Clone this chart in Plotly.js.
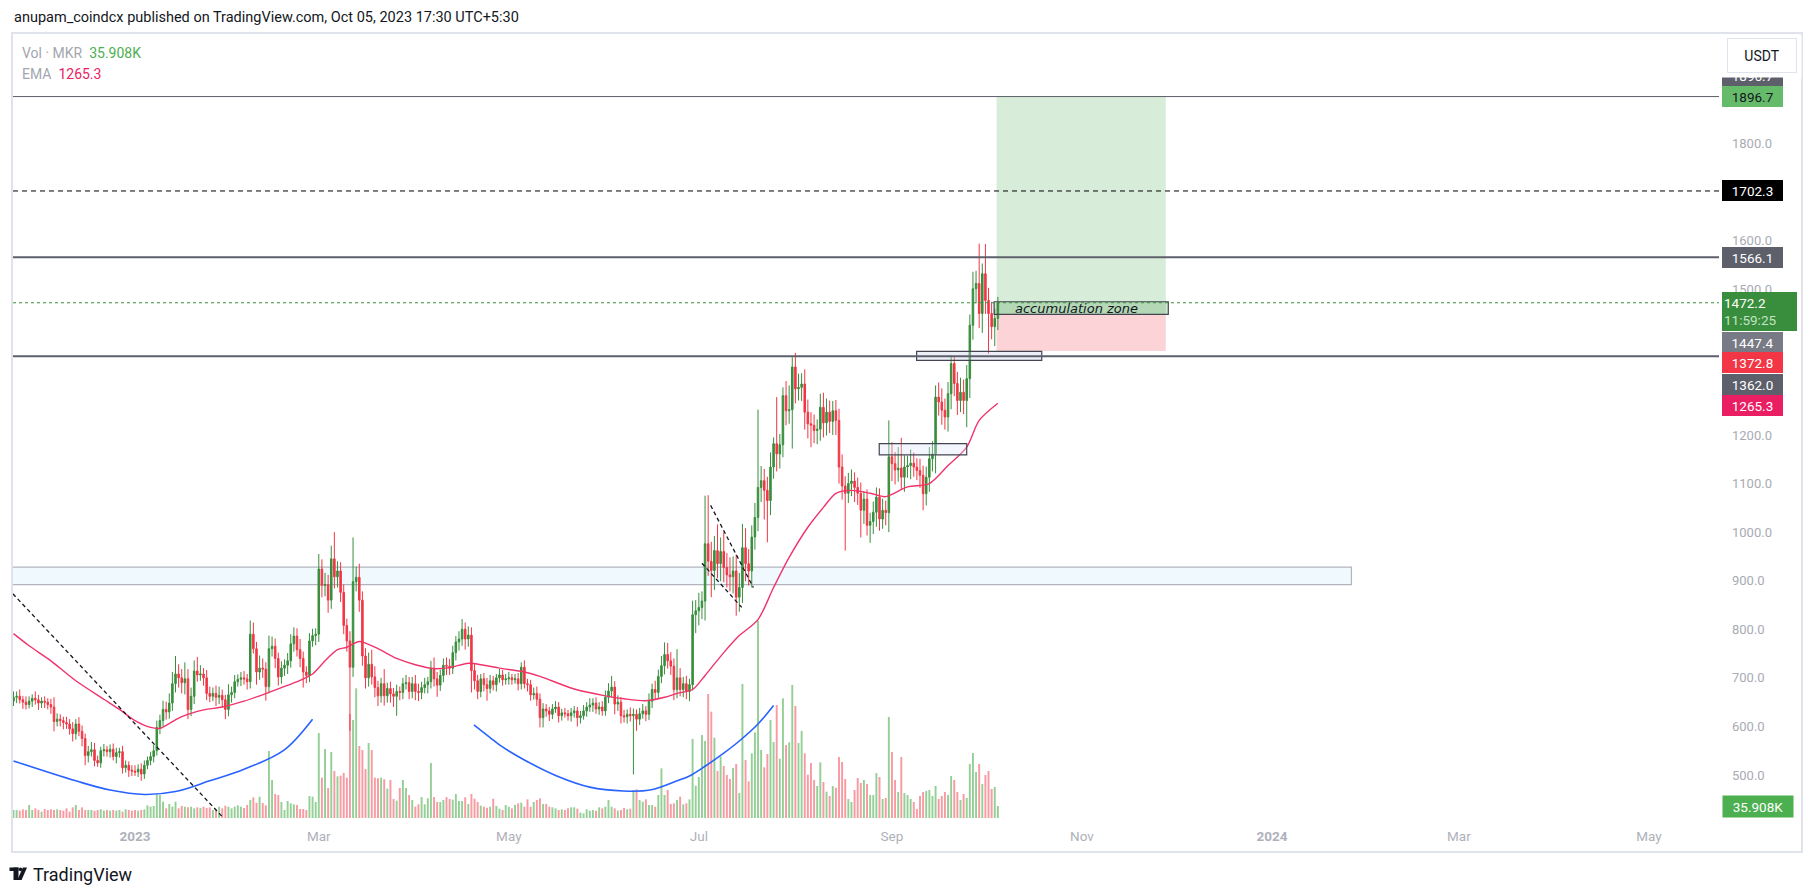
<!DOCTYPE html>
<html><head><meta charset="utf-8">
<script src="https://cdn.plot.ly/plotly-3.0.1.min.js"></script>
<style>html,body{margin:0;padding:0;background:#fff;overflow:hidden}#chart{width:1815px;height:896px}</style>
</head><body><div id="chart"></div>
<script>
// ---------------- DATA (MKR/USDT daily) ----------------
const startDate = '2022-11-23';
const firstOpen = 652;
const closes = [
660,662,655,650,645,652,658,655,648,652,
650,645,640,610,615,612,608,605,595,585,
605,590,575,540,548,552,530,525,550,552,
548,553,538,546,548,515,520,510,508,506,
512,502,520,530,538,550,598,612,635,630,
648,688,708,700,690,698,635,662,714,706,
708,700,668,662,668,660,664,655,635,665,
670,692,697,700,698,692,790,760,712,720,
718,682,760,765,740,702,720,726,735,770,
786,758,740,712,705,776,787,790,924,890,
892,860,945,908,920,876,808,776,722,898,
907,860,745,700,728,702,680,663,688,663,
678,667,662,672,670,688,690,672,688,672,
670,680,686,692,720,698,685,705,726,724,
720,752,774,780,800,780,788,715,694,672,
698,686,678,694,686,700,706,696,698,700,
696,698,688,722,688,686,665,668,656,618,
636,632,625,636,640,622,628,626,622,628,
632,618,622,632,640,644,648,636,640,632,
660,673,681,646,650,622,620,625,622,625,
615,626,632,625,652,676,670,703,725,748,
735,724,676,700,676,688,672,686,830,838,
845,858,976,940,921,962,935,960,927,912,
908,920,866,886,968,935,920,990,1030,1092,
1106,1086,1065,1134,1182,1161,1180,1281,1250,1252,
1340,1295,1298,1305,1247,1223,1220,1209,1212,1257,
1225,1247,1228,1250,1230,1134,1095,1080,1100,1105,
1092,1080,1045,1068,1014,1022,1041,1072,1027,1045,
1040,1155,1141,1128,1132,1113,1134,1137,1142,1134,
1127,1117,1079,1113,1151,1161,1278,1268,1251,1237,
1285,1347,1306,1271,1288,1271,1316,1426,1501,1512,
1450,1532,1477,1450,1423,1440,1472.2];
const upperWick = [
12,10,14,8,12,10,8,14,10,8,
10,8,12,20,12,10,8,12,10,14,
10,14,12,10,12,16,14,10,8,12,
8,10,12,10,8,12,10,8,10,12,
10,12,10,8,10,12,14,12,18,16,
20,24,37,20,18,34,20,18,22,29,
18,12,16,14,12,16,18,12,10,22,
12,14,10,12,14,10,28,24,14,26,
20,14,27,20,16,12,14,12,16,20,
18,16,22,14,12,16,14,12,31,20,
24,20,27,55,20,18,16,14,20,91,
22,28,18,16,24,30,22,14,12,30,
12,14,12,14,10,12,16,12,14,18,
16,12,14,10,15,22,14,12,14,16,
15,14,12,16,21,14,18,16,14,12,
10,12,14,12,10,8,12,10,10,12,
8,10,12,10,14,10,10,12,14,12,
12,10,8,10,12,10,8,10,8,10,
10,8,10,12,10,14,10,12,10,12,
14,16,23,12,14,10,12,10,14,12,
10,12,14,10,16,12,18,14,20,25,
24,18,16,59,20,14,16,12,29,22,
30,20,99,100,40,30,54,29,40,30,
36,30,34,30,49,40,30,24,30,160,
30,24,28,30,13,96,22,17,30,50,
20,29,28,22,30,26,24,22,20,28,
30,28,24,20,22,24,26,20,22,24,
18,20,22,16,20,18,22,20,18,24,
20,75,30,24,43,62,24,20,28,22,
18,24,20,22,24,26,24,30,28,24,
24,17,15,24,30,26,28,22,35,26,
82,21,61,26,24,20,12];
const lowerWick = [
10,12,8,14,10,8,12,10,14,10,
12,10,14,20,10,12,14,10,12,16,
12,10,16,20,14,10,12,8,10,12,
10,12,8,14,10,12,10,14,10,8,
10,14,10,8,10,12,10,14,12,16,
14,16,18,20,22,24,20,14,16,14,
12,16,14,12,10,18,14,16,20,14,
16,12,10,14,12,16,14,10,26,16,
18,29,14,16,20,18,14,16,18,14,
16,14,18,32,16,14,12,20,16,24,
22,26,18,24,22,20,18,22,131,20,
20,24,20,22,18,16,20,21,14,20,
14,18,22,40,16,14,12,16,14,18,
18,14,12,18,14,16,24,12,14,18,
14,12,16,18,14,22,16,45,18,16,
12,14,25,10,12,14,10,12,10,12,
10,8,14,12,10,14,12,10,14,20,
20,12,14,10,8,14,10,8,10,12,
10,18,12,8,12,10,14,10,12,10,
10,12,14,21,14,16,12,14,12,121,
24,12,10,14,12,14,16,12,14,18,
16,18,22,18,14,16,16,20,12,38,
30,24,40,30,55,40,30,36,30,26,
30,34,38,30,32,36,30,34,26,28,
30,60,86,30,24,36,30,26,30,27,
80,30,24,28,36,30,45,26,28,24,
30,26,24,28,30,34,28,118,20,26,
30,24,56,28,21,36,26,30,24,20,
26,40,36,30,24,26,30,22,28,20,
20,26,34,24,30,26,40,28,30,26,
30,32,26,30,24,28,55,40,30,30,
30,40,28,83,26,40,24];
const volumesK = [
24,24,22,26,24,39,24,29,24,19,
27,24,26,24,26,24,22,29,19,32,
39,24,32,24,24,24,22,24,26,22,
24,22,24,22,24,19,26,24,22,24,
22,24,26,38,34,36,71,69,49,29,
42,34,49,29,36,34,32,34,29,32,
30,34,30,32,24,26,34,29,37,34,
29,34,38,34,30,39,54,62,46,64,
45,38,201,114,72,69,48,24,51,44,
41,39,27,27,24,66,64,48,255,121,
207,90,198,141,125,127,135,121,312,294,
389,216,204,147,225,204,121,119,121,116,
88,114,57,52,90,114,90,69,54,34,
41,63,41,59,165,63,48,48,54,63,
57,55,72,51,51,62,42,72,58,48,
37,34,31,34,58,36,28,24,39,34,
29,39,44,46,34,56,34,48,54,59,
42,42,34,32,29,24,26,24,29,32,
32,28,16,14,26,22,24,22,32,29,
34,54,34,29,22,24,30,26,28,84,
86,54,49,56,39,39,34,69,149,69,
84,42,44,54,64,41,44,56,237,97,
123,249,231,372,319,241,141,184,156,129,
117,150,162,75,402,174,110,194,257,591,
204,152,192,294,228,339,178,359,219,227,
399,336,225,261,194,130,165,114,96,167,
108,79,66,96,91,183,168,117,57,48,
84,120,105,114,102,69,69,135,123,57,
60,303,198,114,78,183,75,69,57,48,
27,66,78,81,84,66,96,57,66,78,
69,126,114,78,54,72,60,162,195,138,
162,102,129,141,87,93,35.908];

// EMA line
const emaDates = ['2022-11-23','2022-11-28','2022-12-05','2022-12-13','2022-12-22','2022-12-27','2023-01-01','2023-01-06','2023-01-09','2023-01-12',
'2023-01-16','2023-01-23','2023-01-29','2023-02-05','2023-02-10','2023-02-17','2023-02-23','2023-02-27','2023-03-03','2023-03-07',
'2023-03-10','2023-03-14','2023-03-20','2023-03-26','2023-04-01','2023-04-07','2023-04-12','2023-04-18','2023-04-23','2023-04-28',
'2023-05-06','2023-05-11','2023-05-22','2023-06-01','2023-06-07','2023-06-14','2023-06-20','2023-06-24','2023-06-29','2023-07-03',
'2023-07-09','2023-07-14','2023-07-20','2023-07-25','2023-07-30','2023-08-05','2023-08-10','2023-08-14','2023-08-19','2023-08-25',
'2023-08-30','2023-09-06','2023-09-13','2023-09-19','2023-09-25','2023-09-29','2023-10-05'];
const emaValues = [791,766,735,694,656,635,612,598,596,606,
620,634,640,652,663,680,695,708,735,758,
763,775,760,740,727,719,721,730,726,720,
712,703,677,663,657,653,660,668,676,705,
752,787,820,886,948,1010,1051,1080,1086,1080,
1073,1093,1100,1137,1175,1230,1265.3];

// Drawings (arcs, trend lines, levels, zones)
const arc1Dates = ['2022-11-23','2022-12-13','2022-12-24','2023-01-04','2023-01-14','2023-01-25','2023-02-05','2023-02-17 14:00','2023-02-27'];
const arc1Prices = [529,488,469,460,466,488,512,550,615];
const arc2Dates = ['2023-04-19 19:00','2023-04-25','2023-04-28','2023-05-05 17:00','2023-05-16 10:00','2023-05-27','2023-06-06 19:00','2023-06-15 07:00','2023-06-24','2023-06-28','2023-07-03','2023-07-09','2023-07-14','2023-07-20','2023-07-25'];
const arc2Prices = [603,577,562,532,498,475,467,469,488,498,518,545,570,605,643];
const trend1Dates = ['2022-11-22 19:00','2023-01-29 12:00'];
const trend1Prices = [873,411];
const wedgeUpDates = ['2023-07-04 19:00','2023-07-18 12:00'];
const wedgeUpPrices = [1055,886];
const wedgeLoDates = ['2023-07-02','2023-07-14 19:00'];
const wedgeLoPrices = [936,845];
const levelSolid = [1896.7,1566.1,1362.0];
const levelDashed = 1702.3;
const lastPrice = 1472.2;
const zoneDates = ['2022-11-20','2024-01-26 12:00'], zonePrices = [892,928];
const boxADates = ['2023-08-27 22:00','2023-09-25'], boxAPrices = [1159,1182];
const boxBDates = ['2023-09-08 22:00','2023-10-19 02:00'], boxBPrices = [1353.7,1372.2];
const longDates = ['2023-10-04 14:00','2023-11-27 22:00'];
const longTarget = 1896.7, longEntry = 1447.4, longStop = 1372.8;
const accDates = ['2023-10-03 19:00','2023-11-28 17:00'], accPrices = [1448.4,1474.3];
const accLabel = 'accumulation zone', accLabelDate = '2023-10-30 02:00';
const tickDates = ['2023-01-01','2023-03-01','2023-05-01','2023-07-01','2023-09-01','2023-11-01','2024-01-01','2024-03-01','2024-05-01'];
const tickLabels = ['<b>2023</b>','Mar','May','Jul','Sep','Nov','<b>2024</b>','Mar','May'];
const priceTicks = [500,600,700,800,900,1000,1100,1200,1500,1600,1800];

// ---------------- BUILD ----------------
const DAY = 86400000;
const t0 = Date.parse(startDate + 'T00:00:00Z');
const dates = closes.map((_, i) => new Date(t0 + i * DAY).toISOString().slice(0, 10));
const opens = closes.map((c, i) => i === 0 ? firstOpen : closes[i - 1]);
const highs = closes.map((c, i) => Math.max(opens[i], c) + upperWick[i]);
const lows = closes.map((c, i) => Math.min(opens[i], c) - lowerWick[i]);
const up = closes.map((c, i) => c >= opens[i]);
const GREEN = '#388e3c', RED = '#f23645';

// page geometry helpers (plot area: x 13..1719, y 35..818)
const L = 13, R = 1719, T = 35, B = 818;
const px = x => (x - L) / (R - L);
const py = y => (B - y) / (B - T);
const FONT = 'Roboto, "Open Sans", sans-serif';

const traces = [
  {type: 'bar', x: dates, y: volumesK, yaxis: 'y', width: 0.62 * DAY,
   marker: {color: up.map(u => u ? 'rgba(76,175,80,0.6)' : 'rgba(242,54,69,0.5)'), line: {width: 0}},
   hoverinfo: 'skip', showlegend: false},
  {type: 'candlestick', x: dates, open: opens, high: highs, low: lows, close: closes, yaxis: 'y2',
   increasing: {line: {color: GREEN, width: 1}, fillcolor: GREEN},
   decreasing: {line: {color: RED, width: 1}, fillcolor: RED},
   whiskerwidth: 0, hoverinfo: 'skip', showlegend: false},
  {type: 'scatter', mode: 'lines', x: emaDates, y: emaValues, yaxis: 'y2',
   line: {color: '#f0336b', width: 1.4, shape: 'spline', smoothing: 0.8}, hoverinfo: 'skip', showlegend: false},
  {type: 'scatter', mode: 'lines', x: arc1Dates, y: arc1Prices, yaxis: 'y2',
   line: {color: '#2962ff', width: 1.6, shape: 'spline', smoothing: 1}, hoverinfo: 'skip', showlegend: false},
  {type: 'scatter', mode: 'lines', x: arc2Dates, y: arc2Prices, yaxis: 'y2',
   line: {color: '#2962ff', width: 1.6, shape: 'spline', smoothing: 1}, hoverinfo: 'skip', showlegend: false},
  {type: 'scatter', mode: 'lines', x: trend1Dates, y: trend1Prices, yaxis: 'y2',
   line: {color: '#131722', width: 1.3, dash: '4px,3px'}, hoverinfo: 'skip', showlegend: false},
  {type: 'scatter', mode: 'lines', x: wedgeUpDates, y: wedgeUpPrices, yaxis: 'y2',
   line: {color: '#131722', width: 1.3, dash: '4px,3px'}, hoverinfo: 'skip', showlegend: false},
  {type: 'scatter', mode: 'lines', x: wedgeLoDates, y: wedgeLoPrices, yaxis: 'y2',
   line: {color: '#131722', width: 1.3, dash: '4px,3px'}, hoverinfo: 'skip', showlegend: false}
];

const shapes = [
  // frame
  {type: 'rect', xref: 'paper', yref: 'paper', x0: px(12), x1: px(1802), y0: py(852), y1: py(33),
   line: {color: '#e0e3eb', width: 2}, fillcolor: 'rgba(0,0,0,0)', layer: 'below'},
  // support zone
  {type: 'rect', xref: 'x', yref: 'y2', x0: zoneDates[0], x1: zoneDates[1], y0: zonePrices[0], y1: zonePrices[1],
   line: {color: '#b2b5be', width: 1.2}, fillcolor: 'rgba(204,236,248,0.3)', layer: 'below'},
  // long position
  {type: 'rect', xref: 'x', yref: 'y2', x0: longDates[0], x1: longDates[1], y0: longEntry, y1: longTarget,
   line: {width: 0}, fillcolor: 'rgba(76,175,80,0.22)', layer: 'below'},
  {type: 'rect', xref: 'x', yref: 'y2', x0: longDates[0], x1: longDates[1], y0: longStop, y1: longEntry,
   line: {width: 0}, fillcolor: 'rgba(242,54,69,0.22)', layer: 'below'},
  // boxes
  {type: 'rect', xref: 'x', yref: 'y2', x0: boxADates[0], x1: boxADates[1], y0: boxAPrices[0], y1: boxAPrices[1],
   line: {color: '#434651', width: 1.2}, fillcolor: 'rgba(220,228,245,0.35)', layer: 'above'},
  {type: 'rect', xref: 'x', yref: 'y2', x0: boxBDates[0], x1: boxBDates[1], y0: boxBPrices[0], y1: boxBPrices[1],
   line: {color: '#434651', width: 1.2}, fillcolor: 'rgba(200,208,235,0.35)', layer: 'above'},
  {type: 'rect', xref: 'x', yref: 'y2', x0: accDates[0], x1: accDates[1], y0: accPrices[0], y1: accPrices[1],
   line: {color: '#434651', width: 1.2}, fillcolor: 'rgba(56,142,60,0.22)', layer: 'above'},
  // levels
  ...levelSolid.map((v, i) => ({type: 'line', xref: 'paper', yref: 'y2', x0: 0, x1: 1, y0: v, y1: v,
   line: {color: '#5d606b', width: i === 0 ? 1 : 2}, layer: 'above'})),
  {type: 'line', xref: 'paper', yref: 'y2', x0: 0, x1: 1, y0: levelDashed, y1: levelDashed,
   line: {color: '#000000', width: 1, dash: '5px,4px'}, layer: 'above'},
  {type: 'line', xref: 'paper', yref: 'y2', x0: 0, x1: 1, y0: lastPrice, y1: lastPrice,
   line: {color: GREEN, width: 1, dash: 'dot'}, layer: 'above'},
  // TradingView logo
  {type: 'rect', xref: 'paper', yref: 'paper', x0: px(9.5), x1: px(18.5), y0: py(871), y1: py(867.5), fillcolor: '#131722', line: {width: 0}},
  {type: 'rect', xref: 'paper', yref: 'paper', x0: px(13.5), x1: px(18.5), y0: py(880), y1: py(867.5), fillcolor: '#131722', line: {width: 0}},
  {type: 'circle', xref: 'paper', yref: 'paper', x0: px(18.8), x1: px(22.2), y0: py(871.2), y1: py(867.6), fillcolor: '#131722', line: {width: 0}},
  {type: 'path', xref: 'paper', yref: 'paper',
   path: `M ${px(22.8)} ${py(867.5)} L ${px(27)} ${py(867.5)} L ${px(21.6)} ${py(880)} L ${px(17.4)} ${py(880)} Z`,
   fillcolor: '#131722', line: {width: 0}}
];

function tag(text, y, yshift, bg, fg, extra) {
  return Object.assign({xref: 'paper', yref: 'y2', x: px(1722), y: y, yshift: yshift, xanchor: 'left', yanchor: 'middle',
    text: text, showarrow: false, bgcolor: bg, borderpad: 2, borderwidth: 0, width: 57, height: 17,
    font: {family: FONT, size: 13.5, color: fg}, align: 'center'}, extra || {});
}

const annotations = [
  {xref: 'paper', yref: 'paper', x: px(12), y: py(18), xanchor: 'left', yanchor: 'middle', showarrow: false,
   text: 'anupam_coindcx published on TradingView.com, Oct 05, 2023 17:30 UTC+5:30', font: {family: FONT, size: 14.5, color: '#131722'}},
  {xref: 'paper', yref: 'paper', x: px(20), y: py(53), xanchor: 'left', yanchor: 'middle', showarrow: false,
   text: 'Vol · MKR  <span style="color:#4caf50">35.908K</span>', font: {family: FONT, size: 14, color: '#a3a6af'}},
  {xref: 'paper', yref: 'paper', x: px(20), y: py(74), xanchor: 'left', yanchor: 'middle', showarrow: false,
   text: 'EMA  <span style="color:#e91e63">1265.3</span>', font: {family: FONT, size: 14, color: '#a3a6af'}},
  {xref: 'paper', yref: 'paper', x: px(31), y: py(874), xanchor: 'left', yanchor: 'middle', showarrow: false,
   text: 'TradingView', font: {family: FONT, size: 18, color: '#131722'}},
  {xref: 'x', yref: 'y2', x: accLabelDate, y: (accPrices[0] + accPrices[1]) / 2, showarrow: false,
   text: '<i>' + accLabel + '</i>', font: {family: '"DejaVu Sans", sans-serif', size: 13, color: '#131722'}},
  // price-scale tags
  tag('1896.7', longTarget, 20.6, '#5d606b', '#ffffff'),
  {xref: 'paper', yref: 'paper', x: px(1720), y: py(56), xanchor: 'left', yanchor: 'middle', text: ' ', showarrow: false,
   bgcolor: '#ffffff', borderpad: 0, width: 80, height: 41, font: {size: 10}},
  {xref: 'paper', yref: 'paper', x: px(1727), y: py(55.5), xanchor: 'left', yanchor: 'middle', text: 'USDT', showarrow: false,
   bgcolor: '#ffffff', bordercolor: '#e0e3eb', borderwidth: 1, borderpad: 0, width: 68, height: 33,
   font: {family: FONT, size: 14, color: '#131722'}},
  tag('1896.7', longTarget, 0, '#66bb6a', '#131722'),
  tag('1702.3', levelDashed, 0, '#000000', '#ffffff'),
  tag('1566.1', levelSolid[1], 0, '#5d606b', '#ffffff'),
  tag('1472.2<br><span style="color:#c5e3c6">11:59:25</span>', lastPrice, -9, GREEN, '#ffffff', {width: 71, height: 35, align: 'left', borderpad: 2}),
  tag('1447.4', longEntry, -27.5, '#787b86', '#ffffff'),
  tag('1372.8', longStop, -11.8, '#f23645', '#ffffff'),
  tag('1362.0', levelSolid[2], -28.1, '#5d606b', '#ffffff'),
  tag('1265.3', emaValues[emaValues.length - 1], -2.7, '#e91e63', '#ffffff'),
  {xref: 'paper', yref: 'y', x: px(1722), y: volumesK[volumesK.length - 1], yshift: 0, xanchor: 'left', yanchor: 'middle',
   text: '35.908K', showarrow: false, bgcolor: '#4caf50', borderpad: 2, width: 66, height: 17,
   font: {family: FONT, size: 13.5, color: '#ffffff'}}
];

const layout = {
  width: 1815, height: 896,
  margin: {l: L, r: 1815 - R, t: T, b: 896 - B, pad: 0},
  paper_bgcolor: '#ffffff', plot_bgcolor: 'rgba(0,0,0,0)',
  showlegend: false, dragmode: false, boxgap: 0.3,
  font: {family: FONT},
  xaxis: {type: 'date', range: ['2022-11-22 20:00', '2024-05-23 12:00'], rangeslider: {visible: false},
    tickvals: tickDates, ticktext: tickLabels, tickfont: {family: FONT, size: 13.5, color: '#aeb1ba'},
    showgrid: false, zeroline: false, showline: false, ticks: '', ticklabelstandoff: 8, fixedrange: true},
  yaxis: {range: [0, 2349], visible: false, showgrid: false, zeroline: false, fixedrange: true},
  yaxis2: {overlaying: 'y', side: 'right', range: [411.5, 2023.4], tickvals: priceTicks,
    ticktext: priceTicks.map(v => v.toFixed(1)), tickfont: {family: FONT, size: 13, color: '#a8abb4'},
    showgrid: false, zeroline: false, showline: false, ticks: '', ticklabelstandoff: 12, fixedrange: true},
  shapes: shapes,
  annotations: annotations
};

Plotly.newPlot('chart', traces, layout, {displayModeBar: false, staticPlot: true});
</script></body></html>
